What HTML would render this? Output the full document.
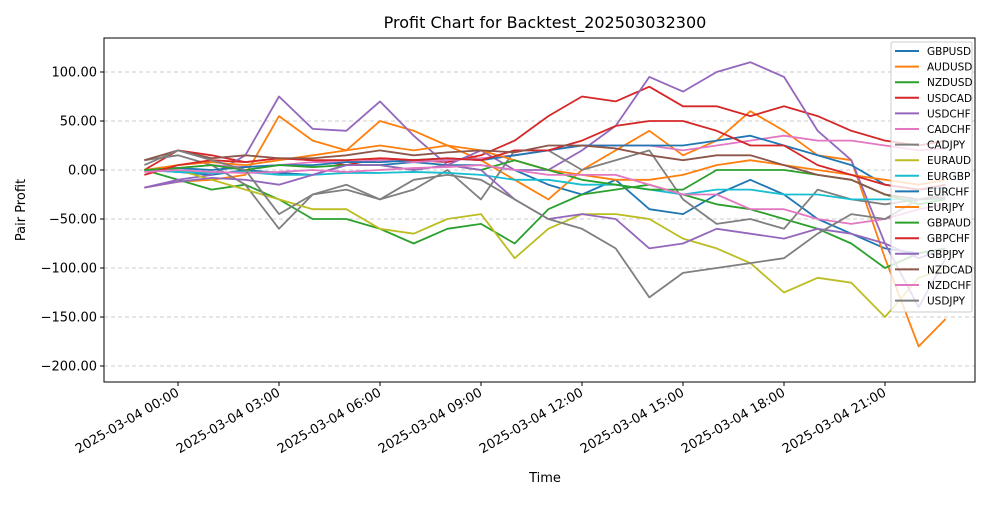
<!DOCTYPE html>
<html><head><meta charset="utf-8"><style>
body{margin:0;background:#fff}
svg text{font-family:"DejaVu Sans","Liberation Sans",sans-serif;fill:#000}
</style></head><body>
<svg id="c" width="1000" height="500" xmlns="http://www.w3.org/2000/svg">
<rect width="1000" height="500" fill="#fff"/>
<text x="545" y="28" font-size="16" text-anchor="middle">Profit Chart for Backtest_202503032300</text>
<g id="grid"></g><g id="series"></g>
<rect x="104" y="38" width="871" height="344" fill="none" stroke="#000" stroke-width="1"/>
<g id="axes"></g>
<text x="545" y="482" font-size="13" text-anchor="middle">Time</text>
<text transform="translate(25,210) rotate(-90)" font-size="13" text-anchor="middle">Pair Profit</text>
<g id="legend"></g>
</svg>
<script>
const hours=[-1,0,1,2,3,4,5,6,7,8,9,10,11,12,13,14,15,16,17,18,19,20,21,22,22.8];
const names=["GBPUSD","AUDUSD","NZDUSD","USDCAD","USDCHF","CADCHF","CADJPY","EURAUD","EURGBP","EURCHF","EURJPY","GBPAUD","GBPCHF","GBPJPY","NZDCAD","NZDCHF","USDJPY"];
const colors=["#1f77b4","#ff7f0e","#2ca02c","#d62728","#9467bd","#e377c2","#7f7f7f","#bcbd22","#17becf","#1f77b4","#ff7f0e","#2ca02c","#d62728","#9467bd","#8c564b","#e377c2","#7f7f7f"];
const GBPUSD=[0,-2,-5,0,-3,-5,5,5,8,5,5,0,-15,-25,-10,-40,-45,-25,-10,-25,-50,-65,-80,-85,-80];
const AUDUSD=[-18,-12,-10,-5,55,30,20,50,40,25,10,-10,-30,0,20,40,15,30,60,40,15,10,-90,-180,-152];
const NZDUSD=[0,-10,-20,-15,-30,-50,-50,-60,-75,-60,-55,-75,-40,-25,-20,-15,-25,-35,-40,-50,-60,-75,-100,-85,-80];
const USDCAD=[0,20,15,8,12,10,5,12,10,8,15,30,55,75,70,85,65,65,55,65,55,40,30,25,30];
const USDCHF=[-18,-10,-5,15,75,42,40,70,35,5,20,0,0,20,45,95,80,100,110,95,40,10,-75,-90,-80];
const CADCHF=[0,2,5,3,5,8,8,10,8,10,12,15,20,25,25,25,20,25,30,35,30,30,25,20,22];
const CADJPY=[10,15,5,-15,-60,-25,-20,-30,-20,0,-30,20,20,0,10,20,-30,-55,-50,-60,-20,-30,-35,-30,-25];
const EURAUD=[0,0,-10,-20,-30,-40,-40,-60,-65,-50,-45,-90,-60,-45,-45,-50,-70,-80,-95,-125,-110,-115,-150,-110,-100];
const EURGBP=[0,-2,-3,-2,-5,-5,-3,-3,-2,-3,-5,-10,-10,-15,-15,-20,-25,-20,-20,-25,-25,-30,-30,-30,-30];
const EURCHF=[0,2,0,3,5,5,8,8,10,12,10,15,20,25,25,25,25,30,35,25,15,5,-15,-20,-18];
const EURJPY=[0,5,8,5,10,15,20,25,20,25,20,10,0,-5,-10,-10,-5,5,10,5,0,-5,-10,-15,-10];
const GBPAUD=[0,2,5,0,5,3,5,5,0,5,0,10,0,-10,-15,-20,-20,0,0,0,-5,-10,-25,-35,-30];
const GBPCHF=[-5,5,10,8,12,10,10,12,10,12,10,20,20,30,45,50,50,40,25,25,5,-5,-15,-20,-15];
const GBPJPY=[-18,-12,-8,-10,-15,-5,5,5,0,5,0,-30,-50,-45,-50,-80,-75,-60,-65,-70,-60,-65,-75,-140,-90];
const NZDCAD=[10,20,12,15,12,12,15,20,15,18,20,18,25,25,22,15,10,15,15,5,-5,-10,-25,-30,-28];
const NZDCHF=[-2,0,-2,-3,-2,0,-2,0,2,3,5,0,-5,-5,-5,-15,-25,-25,-40,-40,-50,-55,-50,-40,-35];
const USDJPY=[5,20,10,0,-45,-25,-15,-30,-10,-5,-10,-30,-50,-60,-80,-130,-105,-100,-95,-90,-65,-45,-50,-30,-25];
const seriesData=[GBPUSD,AUDUSD,NZDUSD,USDCAD,USDCHF,CADCHF,CADJPY,EURAUD,EURGBP,EURCHF,EURJPY,GBPAUD,GBPCHF,GBPJPY,NZDCAD,NZDCHF,USDJPY];
const yTicks=[100,50,0,-50,-100,-150,-200];
const xTickHours=[0,3,6,9,12,15,18,21];
const xTickLabels=["2025-03-04 00:00","2025-03-04 03:00","2025-03-04 06:00","2025-03-04 09:00","2025-03-04 12:00","2025-03-04 15:00","2025-03-04 18:00","2025-03-04 21:00"];
const X=h=>178+h*(101/3), Y=v=>170-v*0.98;
const NS="http://www.w3.org/2000/svg";
function mk(tag,attrs,parent){const e=document.createElementNS(NS,tag);for(const k in attrs)e.setAttribute(k,attrs[k]);parent.appendChild(e);return e;}
const grid=document.getElementById('grid'),axes=document.getElementById('axes'),ser=document.getElementById('series'),leg=document.getElementById('legend');
yTicks.forEach(v=>{
 const g=mk('line',{x1:104,x2:975,y1:Y(v),y2:Y(v),stroke:'#ccc','stroke-dasharray':'4,3'},grid);
 
 
 const t=mk('line',{x1:100,x2:104,y1:Y(v),y2:Y(v),stroke:'#000'},axes);
 
 
 const l=mk('text',{x:97,y:Y(v)+4.5,'font-size':13,'text-anchor':'end'},axes);
 l.textContent=v.toFixed(2).replace('-','\u2212');
 
 
});
xTickHours.forEach((h,i)=>{
 const t=mk('line',{x1:X(h),x2:X(h),y1:382,y2:386,stroke:'#000'},axes);
 
 
 const l=mk('text',{transform:`translate(${X(h)+2},${395}) rotate(-30)`,'font-size':13,'text-anchor':'end'},axes);
 l.textContent=xTickLabels[i];
 
 
});
seriesData.forEach((d,i)=>{
 const p=mk('polyline',{points:d.map((v,j)=>X(hours[j])+','+Y(v)).join(' '),fill:'none',stroke:colors[i],'stroke-width':1.8,'stroke-linejoin':'round'},ser);
 
 
});
const lb=mk('rect',{x:891,y:42,width:81,height:270,fill:'#fff','fill-opacity':0.8,stroke:'#ccc',rx:2},leg);


names.forEach((n,i)=>{
 const y=51+i*15.6;
 const l=mk('line',{x1:895,x2:919,y1:y,y2:y,stroke:colors[i],'stroke-width':2},leg);
 
 
 const t=mk('text',{x:927,y:y+4,'font-size':10.5},leg);
 t.textContent=n;
 
 
});
</script>
</body></html>
